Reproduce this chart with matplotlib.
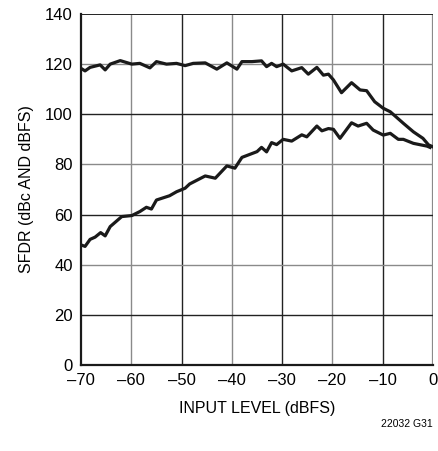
import matplotlib
matplotlib.use("Agg")
import matplotlib.pyplot as plt
from matplotlib import font_manager

fams = [f.name for f in font_manager.fontManager.ttflist]
base = 'Liberation Sans Narrow' if 'Liberation Sans Narrow' in fams else 'Liberation Sans'
plt.rcParams['font.family'] = [base, 'DejaVu Sans']

# dBc curve (upper)
x_dbc = [-70, -69.2, -68.2, -66.2, -65.2, -64.2, -62.2, -59.9, -58.3, -56.3, -55, -53, -51,
         -49.3, -47.7, -45.3, -43, -41, -39, -38, -36, -34.1, -33.1, -32.1, -31.1, -29.8,
         -28.1, -26.1, -24.8, -23.1, -21.8, -20.8, -19.8, -18.2, -16.2, -14.5, -13.2, -11.6,
         -9.9, -8.5, -5.9, -3.9, -2, -0.9, 0]
y_dbc = [118.3, 117.3, 118.7, 119.7, 117.7, 120, 121.4, 120, 120.3, 118.5, 121, 120, 120.3,
         119.4, 120.3, 120.5, 118, 120.5, 118, 121, 121, 121.3, 119, 120.3, 119, 120,
         117.3, 118.6, 116, 118.7, 115.6, 116, 113.7, 108.6, 112.6, 109.7, 109.4, 105,
         102.4, 101, 96.4, 93, 90.4, 87.8, 87]

# dBFS curve (lower)
x_dbfs = [-70, -69.2, -68.2, -67.2, -66.1, -65.2, -64.2, -61.9, -59.9, -58.3, -57, -56, -55,
          -52.4, -51, -49.3, -48.4, -45.3, -43.3, -41, -39.4, -38, -35, -34.1, -33.1, -32.1,
          -31.1, -29.8, -28.1, -26.1, -25.1, -23.1, -22.1, -20.8, -19.8, -18.5, -16.2, -14.9,
          -13.2, -11.9, -9.9, -8.5, -6.9, -5.9, -3.9, -1.2, -0.6]
y_dbfs = [47.9, 47.3, 50.1, 51, 52.8, 51.5, 55.2, 59.2, 59.6, 61.2, 62.9, 62.2, 65.8,
          67.5, 69.1, 70.5, 72.2, 75.4, 74.5, 79.4, 78.5, 82.8, 85.1, 86.8, 85, 88.7,
          87.9, 90, 89.3, 91.8, 91, 95.3, 93.4, 94.3, 94, 90.4, 96.6, 95.3,
          96.4, 93.7, 91.7, 92.4, 90, 90, 88.4, 87.3, 86.8]

x_ticks = [-70, -60, -50, -40, -30, -20, -10, 0]
x_labels = ['\u201370', '\u201360', '\u201350', '\u201340', '\u201330', '\u201320', '\u201310', '0']
y_ticks = [0, 20, 40, 60, 80, 100, 120, 140]

fig = plt.figure(figsize=(4.38, 4.51), dpi=100)
ax = fig.add_axes([0.185, 0.1907, 0.8036, 0.7783])
ax.set_xlim(-70, 0)
ax.set_ylim(0, 140)

# grid, alternating dark / gray
for i, xv in enumerate(x_ticks[1:]):
    c = '#8a8a8a' if i % 2 == 0 else '#222222'
    lw = 1.6 if xv == 0 else 1.0
    ax.axvline(xv, color=c, lw=lw, zorder=1)
for i, yv in enumerate(y_ticks[1:]):
    c = '#222222' if i % 2 == 0 else '#8a8a8a'
    lw = 1.4 if yv == 140 else 1.0
    ax.axhline(yv, color=c, lw=lw, zorder=1)

ax.plot(x_dbc, y_dbc, color='#1a1a1a', lw=2.3, zorder=3, solid_joinstyle='round')
ax.plot(x_dbfs, y_dbfs, color='#1a1a1a', lw=2.3, zorder=3, solid_joinstyle='round')

for s in ['top', 'right']:
    ax.spines[s].set_visible(False)
for s in ['left', 'bottom']:
    ax.spines[s].set_linewidth(1.6)
    ax.spines[s].set_color('#1a1a1a')

ax.set_xticks(x_ticks)
ax.set_xticklabels(x_labels)
ax.set_yticks(y_ticks)
ax.tick_params(length=0, labelsize=12, pad=6)
ax.set_xlabel('INPUT LEVEL (dBFS)', fontsize=11.5, labelpad=9)
ax.set_ylabel('SFDR (dBc AND dBFS)', fontsize=11.5, labelpad=8)

fig.text(0.988, 0.06, '22032 G31', ha='right', va='center', fontsize=7.5)

fig.savefig('out.png', dpi=100)
